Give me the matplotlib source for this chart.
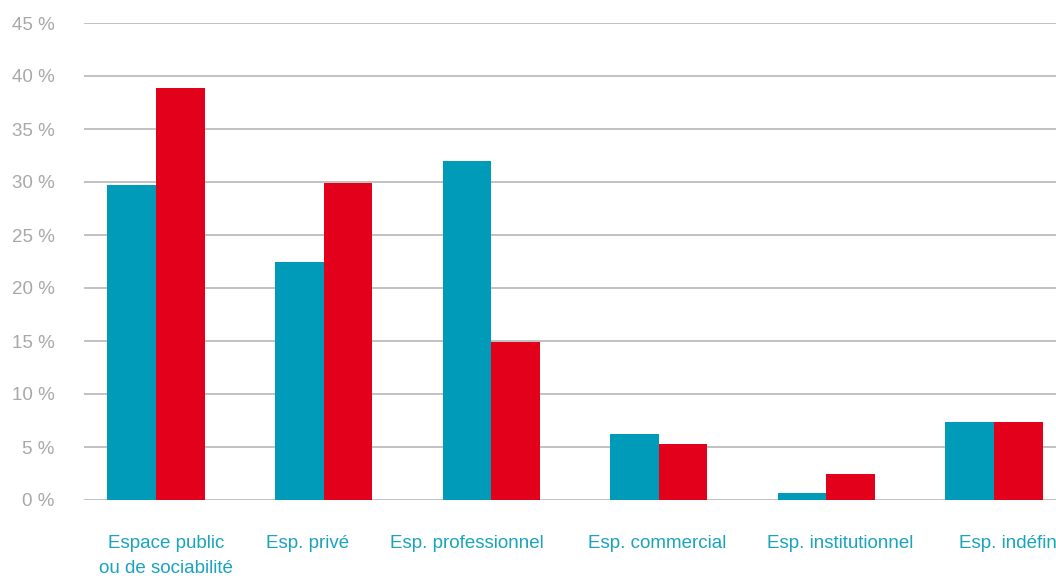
import numpy as np
import matplotlib
matplotlib.use("Agg")
import matplotlib.pyplot as plt
import matplotlib.transforms as mtransforms

# Data
categories = ["Espace public\nou de sociabilité", "Esp. privé", "Esp. professionnel",
              "Esp. commercial", "Esp. institutionnel", "Esp. indéfini"]
serie_bleue = [29.7, 22.5, 32.0, 6.2, 0.7, 7.4]
serie_rouge = [38.9, 29.9, 14.9, 5.3, 2.5, 7.4]
yticks = [0, 5, 10, 15, 20, 25, 30, 35, 40, 45]

plt.rcParams['font.family'] = ['Liberation Sans', 'DejaVu Sans']

fig = plt.figure(figsize=(10.56, 5.76), dpi=100)
ax = fig.add_axes([84/1056, 1 - 500/576, 1 - 84/1056, (500 - 23)/576])

x = np.arange(len(categories))
w = 0.29
ax.bar(x - w/2, serie_bleue, width=w, color='#009bb8', zorder=3)
ax.bar(x + w/2, serie_rouge, width=w, color='#e2001a', zorder=3)

ax.set_xlim(-0.43, 5.37)
ax.set_ylim(0, 45)
ax.set_yticks(yticks)
ax.set_yticklabels([f"{v} %" for v in yticks], color='#a8a8a8', fontsize=13.5)
ax.set_xticks(x)
ax.set_xticklabels(categories, color='#1aa3bd', fontsize=13.5, linespacing=1.6)
ax.tick_params(axis='y', length=0, pad=21)
ax.tick_params(axis='x', length=0, pad=25)

# the labels in the original are nudged a little off the group centres
label_dx = [10, -16, -24, -2, 14, 16]
for lab, dx in zip(ax.get_xticklabels(), label_dx):
    lab.set_transform(lab.get_transform() +
                      mtransforms.ScaledTranslation(dx/100, 0, fig.dpi_scale_trans))

for s in ax.spines.values():
    s.set_visible(False)
ax.yaxis.grid(True, color='#b0b0b0', linewidth=1.1, zorder=0)
ax.set_axisbelow(True)

fig.savefig("out.png", dpi=100)
